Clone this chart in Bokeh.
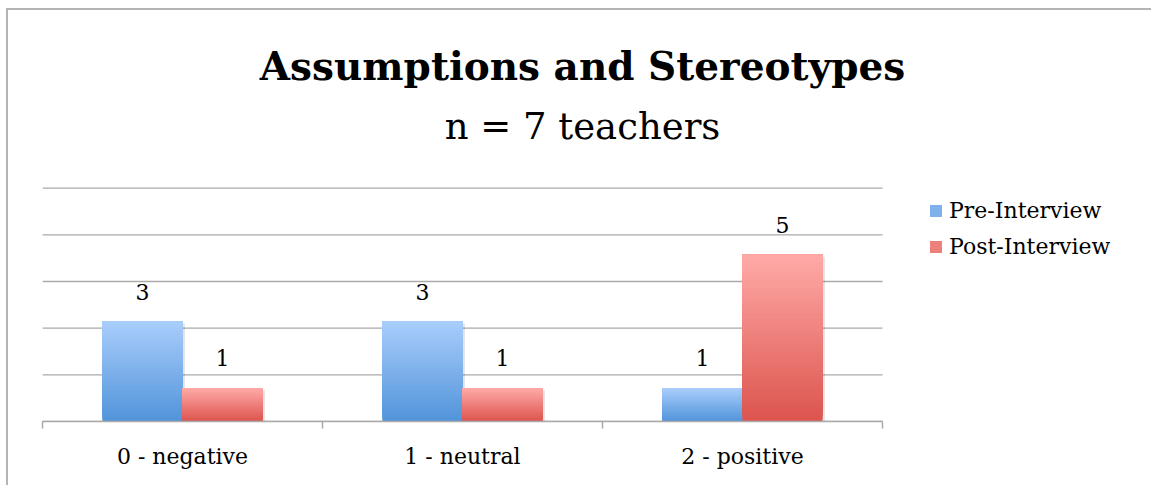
from bokeh.plotting import figure
from bokeh.models import Range1d, FixedTicker, Label, Legend, LegendItem, ColumnDataSource
from bokeh.embed import file_html
from bokeh.resources import INLINE
from bokeh.core.properties import value

# ---- data ----
categories = ["0 - negative", "1 - neutral", "2 - positive"]
series_names = ["Pre-Interview", "Post-Interview"]
pre_values = [3, 3, 1]
post_values = [1, 1, 5]
y_ticks = [0, 1.4, 2.8, 4.2, 5.6, 7]
title_text = "Assumptions and Stereotypes"
subtitle_text = "n = 7 teachers"

# ---- style / layout ----
FONT = "DejaVu Serif"
BLUE_TOP, BLUE_BOT = "#a9cdfb", "#5194da"
RED_TOP, RED_BOT = "#ffaaa7", "#dc544e"
GRID = "#aaaaaa"
BAR_W = 80 / 280          # bar width as a fraction of a category
PX_PER_CAT = 280.0        # pixels per category
PX_PER_UNIT = 100.0 / 3   # pixels per value unit
CANVAS_W, CANVAS_H = 1143, 475
LEFT, BOTTOM = 34, 64
FRAME_W = CANVAS_W - LEFT
FRAME_H = CANVAS_H - BOTTOM
N_SLICES = 60
n_cat = len(categories)

p = figure(frame_width=FRAME_W, frame_height=FRAME_H,
           x_range=Range1d(-0.5, -0.5 + FRAME_W / PX_PER_CAT),
           y_range=Range1d(0, FRAME_H / PX_PER_UNIT),
           output_backend="svg", toolbar_location=None,
           min_border_left=LEFT, min_border_right=0,
           min_border_top=0, min_border_bottom=BOTTOM)
p.outline_line_color = None
p.background_fill_color = "white"
p.border_fill_color = "white"
p.styles = {"margin-left": "6px", "margin-top": "8px",
            "border-left": "2px solid #b4b4b4", "border-top": "2px solid #b4b4b4"}


def hex2rgb(h):
    h = h.lstrip("#")
    return tuple(int(h[i:i + 2], 16) for i in (0, 2, 4))


def mix(c1, c2, t):
    a, b = hex2rgb(c1), hex2rgb(c2)
    return "#%02x%02x%02x" % tuple(int(round(a[i] + (b[i] - a[i]) * t)) for i in range(3))


def gradient_bars(lefts, rights, vals, c_top, c_bot, n=N_SLICES):
    # each slice runs from its own bottom up to the bar top; later slices
    # cover the upper part, giving a seamless bottom-to-top gradient
    L, R, B, T, C = [], [], [], [], []
    for l, r, v in zip(lefts, rights, vals):
        for k in range(n):
            L.append(l)
            R.append(r)
            B.append(v * k / n)
            T.append(v)
            C.append(mix(c_bot, c_top, (k + 0.5) / n))
    src = ColumnDataSource(dict(left=L, right=R, bottom=B, top=T, color=C))
    return p.quad(left="left", right="right", bottom="bottom", top="top",
                  fill_color="color", line_color=None, source=src)


# horizontal gridlines across the category area
p.segment(x0=[-0.5] * len(y_ticks), x1=[n_cat - 0.5] * len(y_ticks),
          y0=y_ticks, y1=y_ticks, line_color=GRID, line_width=1.4)

idx = list(range(n_cat))
pre_l = [i - BAR_W for i in idx]
pre_r = [i for i in idx]
post_l = [i for i in idx]
post_r = [i + BAR_W for i in idx]

# soft shadows
for ls, rs, vs in ((pre_l, pre_r, pre_values), (post_l, post_r, post_values)):
    p.quad(left=[l + 0.004 for l in ls], right=[r + 0.009 for r in rs],
           bottom=[-0.1] * len(vs), top=[v - 0.06 for v in vs],
           fill_color="black", fill_alpha=0.10, line_color=None)

r_pre = gradient_bars(pre_l, pre_r, pre_values, BLUE_TOP, BLUE_BOT)
r_post = gradient_bars(post_l, post_r, post_values, RED_TOP, RED_BOT)

# data labels
for ls, rs, vs in ((pre_l, pre_r, pre_values), (post_l, post_r, post_values)):
    p.text(x=[(l + r) / 2 for l, r in zip(ls, rs)], y=vs,
           text=[str(v) for v in vs], y_offset=-30,
           text_align="center", text_baseline="alphabetic",
           text_font=value(FONT), text_font_size="22px", text_color="black")

p.xgrid.visible = False
p.ygrid.visible = False
p.yaxis.visible = False

# x axis
xa = p.xaxis[0]
xa.bounds = (-0.5, n_cat - 0.5)
xa.ticker = FixedTicker(ticks=idx, minor_ticks=[i - 0.5 for i in idx] + [idx[-1] + 0.5])
xa.major_label_overrides = {i: c for i, c in zip(idx, categories)}
xa.axis_line_color = GRID
xa.axis_line_width = 1.5
xa.major_tick_line_color = None
xa.major_tick_in = 0
xa.major_tick_out = 0
xa.minor_tick_in = 0
xa.minor_tick_out = 7
xa.minor_tick_line_color = GRID
xa.minor_tick_line_width = 1.5
xa.major_label_standoff = 15
xa.major_label_text_font = FONT
xa.major_label_text_font_size = "22px"
xa.major_label_text_color = "black"

# legend
legend = Legend(items=[LegendItem(label=series_names[0], renderers=[r_pre], index=N_SLICES // 2),
                       LegendItem(label=series_names[1], renderers=[r_post], index=N_SLICES // 2)],
                location=(886, 162), glyph_width=15, glyph_height=15,
                label_standoff=6, label_height=26, spacing=10,
                padding=0, margin=0, border_line_color=None,
                background_fill_alpha=0,
                label_text_font=FONT, label_text_font_size="22px",
                label_text_color="black")
p.add_layout(legend)

# titles
p.add_layout(Label(x=540, y=356, x_units="screen", y_units="screen",
                   text=title_text, text_align="center", text_baseline="alphabetic",
                   text_font=FONT, text_font_style="bold", text_font_size="39px",
                   text_color="black"))
p.add_layout(Label(x=540, y=295, x_units="screen", y_units="screen",
                   text=subtitle_text, text_align="center", text_baseline="alphabetic",
                   text_font=FONT, text_font_size="37px", text_color="black"))

open("out.html", "w").write(file_html(p, INLINE))
